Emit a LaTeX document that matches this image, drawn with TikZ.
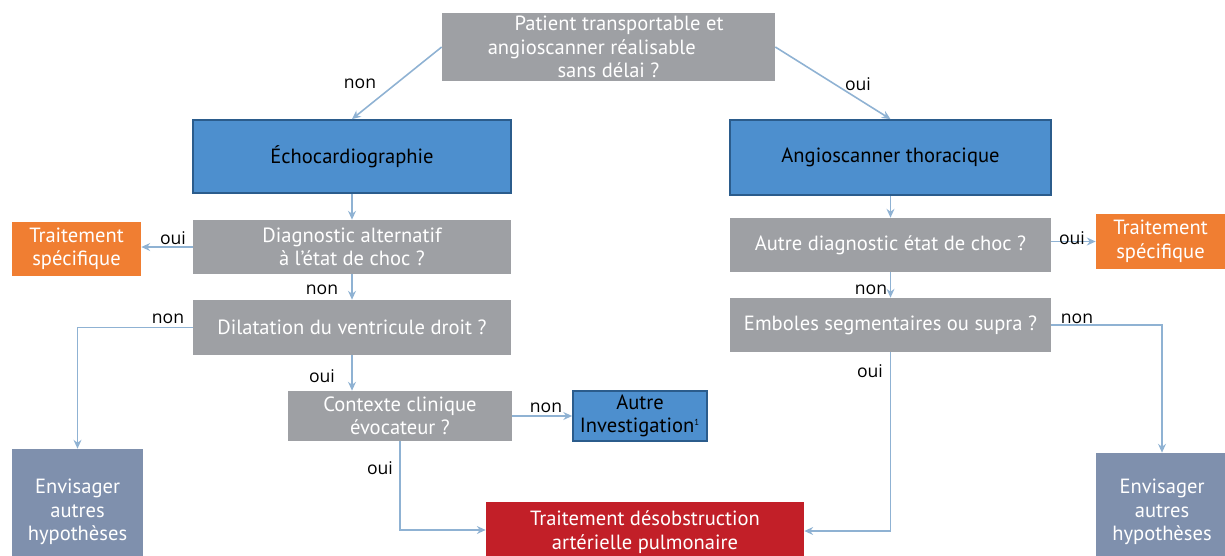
\documentclass[tikz,border=0pt]{standalone}
\usepackage{fontspec}
\setmainfont{PT Sans}
\newfontfamily\lblfont{Open Sans}
\usepackage{tikz}
\usetikzlibrary{arrows.meta, positioning, calc}

\definecolor{boxgray}{HTML}{9EA0A4}
\definecolor{boxblue}{HTML}{4D8FCE}
\definecolor{blueline}{HTML}{2B5C8C}
\definecolor{boxorange}{HTML}{F07E32}
\definecolor{boxred}{HTML}{C21F28}
\definecolor{boxslate}{HTML}{7F90AD}
\definecolor{linkblue}{HTML}{8FB2D3}

\begin{document}
\begin{tikzpicture}[x=0.02cm, y=-0.02cm,
        every node/.style = {font=\fontsize{11.7}{13.4}\selectfont, align=center, inner sep=0pt},
        question/.style = {fill=boxgray, text=white},
        exam/.style = {fill=boxblue, draw=blueline, line width=1pt, text=black},
        therapy/.style = {fill=boxorange, text=white},
        urgent/.style = {fill=boxred, text=white},
        other/.style = {fill=boxslate, text=white},
        answer/.style = {font=\lblfont\fontsize{10}{12}\selectfont, text=black},
        link/.style = {draw=linkblue, line width=0.9pt, -{Stealth[length=5pt, width=4.5pt]}}]
    \useasboundingbox (0,0) rectangle (1225,555);

    % boxes
    \node[question, minimum width=6.66cm, minimum height=1.36cm] (top) at (608.5, 47)
        {\makebox[12pt]{}Patient transportable et\\angioscanner réalisable\makebox[19pt]{}\\sans délai ?};
    \node[exam, minimum width=6.36cm, minimum height=1.46cm] (echo) at (352, 156.5) {Échocardiographie};
    \node[exam, minimum width=6.42cm, minimum height=1.5cm] (angio) at (890.5, 157.5) {Angioscanner thoracique};

    \node[question, minimum width=6.36cm, minimum height=1.08cm] (diag) at (352, 247) {Diagnostic alternatif\\à l’état de choc ?};
    \node[therapy, minimum width=2.58cm, minimum height=1.08cm] (tsL) at (76.5, 249) {Traitement\\spécifique};
    \node[question, minimum width=6.36cm, minimum height=1.1cm] (dil) at (352, 327.5) {Dilatation du ventricule droit ?};
    \node[question, minimum width=4.48cm, minimum height=1cm] (ctx) at (400, 416) {Contexte clinique\\évocateur ?};
    \node[exam, minimum width=2.68cm, minimum height=1cm] (autre) at (640, 416) {Autre\\Investigation\textsuperscript{\tiny 1}};
    \node[other, minimum width=2.62cm, minimum height=2.52cm] (envL) at (77.5, 512) {Envisager\\autres\\hypothèses};

    \node[question, minimum width=6.42cm, minimum height=1.08cm] (adiag) at (890.5, 245) {Autre diagnostic état de choc ?};
    \node[therapy, minimum width=2.58cm, minimum height=1.1cm] (tsR) at (1160.5, 241.5) {Traitement\\spécifique};
    \node[question, minimum width=6.42cm, minimum height=1.08cm] (emb) at (890.5, 325) {Emboles segmentaires ou supra ?};
    \node[other, minimum width=2.64cm, minimum height=2.36cm] (envR) at (1162, 512) {Envisager\\autres\\hypothèses};

    \node[urgent, minimum width=6.36cm, minimum height=1.2cm] (red) at (645, 532)
        {Traitement désobstruction\\artérielle pulmonaire};

    % connectors
    \draw[link] (top.west) -- (echo.north);
    \draw[link] (top.east) -- (angio.north);
    \draw[link] (echo) -- (diag);
    \draw[link] (diag.west) -- (diag.west -| tsL.east);
    \draw[link] (diag) -- (dil);
    \draw[link] (dil.west) -| (envL.north);
    \draw[link] (dil.south) -- (dil.south |- ctx.north);
    \draw[link] (ctx.east) -- (autre.west);
    \draw[link] (ctx.south) |- ([yshift=0.04cm]red.west);
    \draw[link] (angio) -- (adiag);
    \draw[link] (adiag.east |- tsR.west) -- (tsR.west);
    \draw[link] (adiag) -- (emb);
    \draw[link] (emb.east) -| (envR.north);
    \draw[link] (emb.south) |- ([yshift=0.02cm]red.east);

    % answers
    \node[answer] (a1) at (360, 84) {non};
    \node[answer] (a2) at (858, 84) {oui};
    \node[answer] (a3) at (173, 238) {oui};
    \node[answer] (a4) at (322, 290) {non};
    \node[answer] (a5) at (168, 319) {non};
    \node[answer] (a6) at (322, 376) {oui};
    \node[answer] (a7) at (546, 408) {non};
    \node[answer] (a8) at (380, 468) {oui};
    \node[answer] (a9) at (1072, 238) {oui};
    \node[answer] (a10) at (871, 290) {non};
    \node[answer] (a11) at (1077, 319) {non};
    \node[answer] (a12) at (870, 371) {oui};
\end{tikzpicture}
\end{document}
